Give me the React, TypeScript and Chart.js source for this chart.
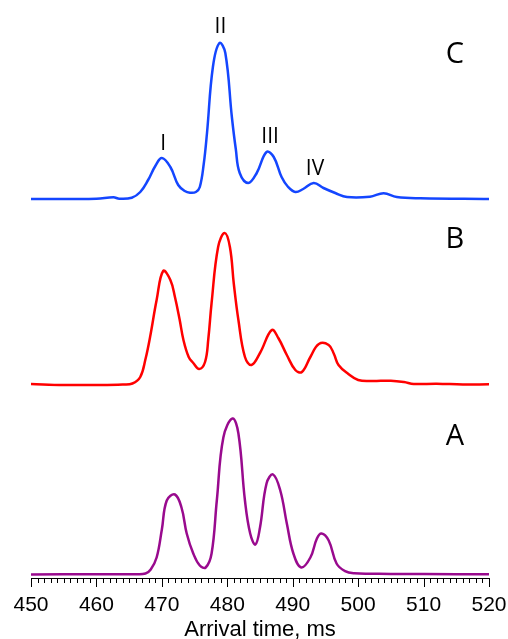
import React, { useEffect, useRef } from "react";
import { Chart, registerables } from "chart.js";

Chart.register(...registerables);

// Arrival times (ms) and intensities for each trace
const timesA = [450, 460, 466, 467.5, 468.3, 469.2, 470.0, 470.75, 472.0, 473.0, 473.8, 474.8, 475.8, 476.7, 477.6, 478.4, 479.4, 480.8, 481.7, 482.7, 483.5, 484.3, 485.0, 486.0, 487.0, 488.1, 489.1, 490.1, 491.3, 492.7, 493.7, 494.4, 495.5, 496.7, 498.0, 499.4, 505, 510, 520];
const intensA = [0, 0.3, 0.3, 1, 5, 17, 45, 74, 80, 67, 41, 21, 9, 7, 21, 74, 137, 156, 141, 74, 41, 30, 47, 91, 100, 84, 51, 21, 7, 17, 36, 41, 34, 11, 3.3, 1.3, 0.6, 0.4, 0.3];

const timesB = [450, 455, 460, 464, 465.5, 466.7, 467.5, 468.2, 469.2, 470.2, 471.3, 472.0, 472.7, 473.3, 474.1, 474.8, 475.7, 476.6, 477.1, 477.6, 478.6, 479.6, 480.4, 481.0, 481.7, 482.7, 483.7, 485.0, 486.8, 487.8, 489.1, 490.4, 491.4, 492.7, 494.0, 495.5, 496.3, 497.0, 498.5, 500.0, 502, 505, 507, 508.5, 512, 516, 520];
const intensB = [0, -1, -1, -0.5, 0.5, 7, 25, 47, 84, 113, 104, 87, 65, 44, 27, 21, 15, 22, 45, 81, 137, 151, 137, 100, 64, 27, 19, 31, 54, 46, 29, 14, 12, 27, 40, 39, 30, 19, 10, 4, 3, 3.3, 2, 0, 0.3, -0.5, -0.3];

const timesC = [450, 460, 462.6, 463.5, 465.4, 466.7, 467.9, 469.0, 470.0, 471.3, 472.5, 473.5, 474.3, 475.2, 475.8, 476.4, 476.9, 477.8, 478.8, 479.7, 480.7, 481.3, 481.9, 483.2, 484.5, 486.0, 487.1, 488.3, 489.3, 490.4, 491.6, 493.2, 494.7, 496.5, 498.3, 501.8, 503.9, 505.9, 509.5, 520];
const intensC = [0, 0.3, 1.7, 0.3, 1.3, 7, 19, 33, 41, 32, 14, 8, 6.3, 7, 12, 35, 66, 132, 156, 146, 82, 50, 26, 16, 26, 47, 42, 22, 12, 7, 10, 16, 11, 6, 2, 2.3, 5.7, 2, 0.7, 0];

// Vertical stacking offsets of the traces
const offsetA = 3.5;
const offsetB = 194;
const offsetC = 379;

// Trace labels
const traceLabels = ["A", "B", "C"];
const traceLabelX = [514.8, 514.8, 514.8];
const traceLabelY = [133, 330, 515];

// Peak labels (on trace C)
const peakLabels = ["I", "II", "III", "IV"];
const peakLabelX = [470.2, 478.95, 486.55, 493.4];
const peakLabelY = [428, 545.3, 435.5, 403];

const xTicksMajor = [450, 460, 470, 480, 490, 500, 510, 520];

const toPoints = (t: number[], v: number[], off: number) => t.map((x, i) => ({ x, y: v[i] + off }));

const annotationPlugin = {
  id: "annotations",
  afterDatasetsDraw(chart: any) {
    const { ctx, scales } = chart;
    const xs = scales.x;
    const ys = scales.y;
    ctx.save();
    ctx.fillStyle = "#000";
    ctx.textAlign = "center";
    ctx.textBaseline = "alphabetic";
    ctx.font = "29px 'Open Sans'";
    traceLabels.forEach((lab, i) => {
      ctx.fillText(lab, xs.getPixelForValue(traceLabelX[i]), ys.getPixelForValue(traceLabelY[i]));
    });
    ctx.font = "21px 'Open Sans'";
    peakLabels.forEach((lab, i) => {
      ctx.fillText(lab, xs.getPixelForValue(peakLabelX[i]), ys.getPixelForValue(peakLabelY[i]));
    });
    // tick marks on x axis
    const y0 = ys.getPixelForValue(0);
    ctx.strokeStyle = "#000";
    ctx.lineWidth = 1;
    ctx.beginPath();
    for (let t = xs.min; t <= xs.max; t += 1) {
      const px = Math.round(xs.getPixelForValue(t)) + 0.5;
      const len = xTicksMajor.includes(t) ? 9 : 5;
      ctx.moveTo(px, y0);
      ctx.lineTo(px, y0 + len);
    }
    ctx.stroke();
    ctx.restore();
  },
};

export default function App() {
  const ref = useRef<HTMLCanvasElement | null>(null);
  useEffect(() => {
    if (!ref.current) return;
    const line = { borderWidth: 2.5, pointRadius: 0, tension: 0.4, fill: false };
    const chart = new Chart(ref.current, {
      type: "line",
      data: {
        datasets: [
          { label: "A", data: toPoints(timesA, intensA, offsetA), borderColor: "#990a8e", ...line },
          { label: "B", data: toPoints(timesB, intensB, offsetB), borderColor: "#ff0000", ...line },
          { label: "C", data: toPoints(timesC, intensC, offsetC), borderColor: "#1446ff", ...line },
        ],
      },
      options: {
        animation: false,
        responsive: false,
        layout: { padding: { left: 31, right: 19, top: 0, bottom: 0 } },
        plugins: { legend: { display: false }, tooltip: { enabled: false } },
        scales: {
          x: {
            type: "linear",
            min: 450,
            max: 520,
            grid: { display: false, drawTicks: false, tickLength: 0 },
            border: { display: true, color: "#000", width: 1 },
            ticks: {
              stepSize: 10,
              padding: 15,
              color: "#000",
              font: { family: "'Liberation Sans', Arial, sans-serif", size: 21 },
              maxRotation: 0,
              autoSkip: false,
            },
            title: {
              display: true,
              text: "Arrival time, ms",
              color: "#000",
              font: { family: "'Liberation Sans', Arial, sans-serif", size: 22, lineHeight: 0.8 },
              padding: { top: 0, bottom: 0 },
            },
            afterFit: (scale: any) => {
              scale.height = 61;
              scale.paddingLeft = 0;
              scale.paddingRight = 0;
            },
          },
          y: { display: false, min: 0, max: 578 },
        },
      },
      plugins: [annotationPlugin],
    });
    return () => chart.destroy();
  }, []);
  return (
    <div style={{ position: "absolute", left: 0, top: 0, width: 508, height: 639, background: "#fff" }}>
      <canvas ref={ref} width={508} height={639} />
    </div>
  );
}
